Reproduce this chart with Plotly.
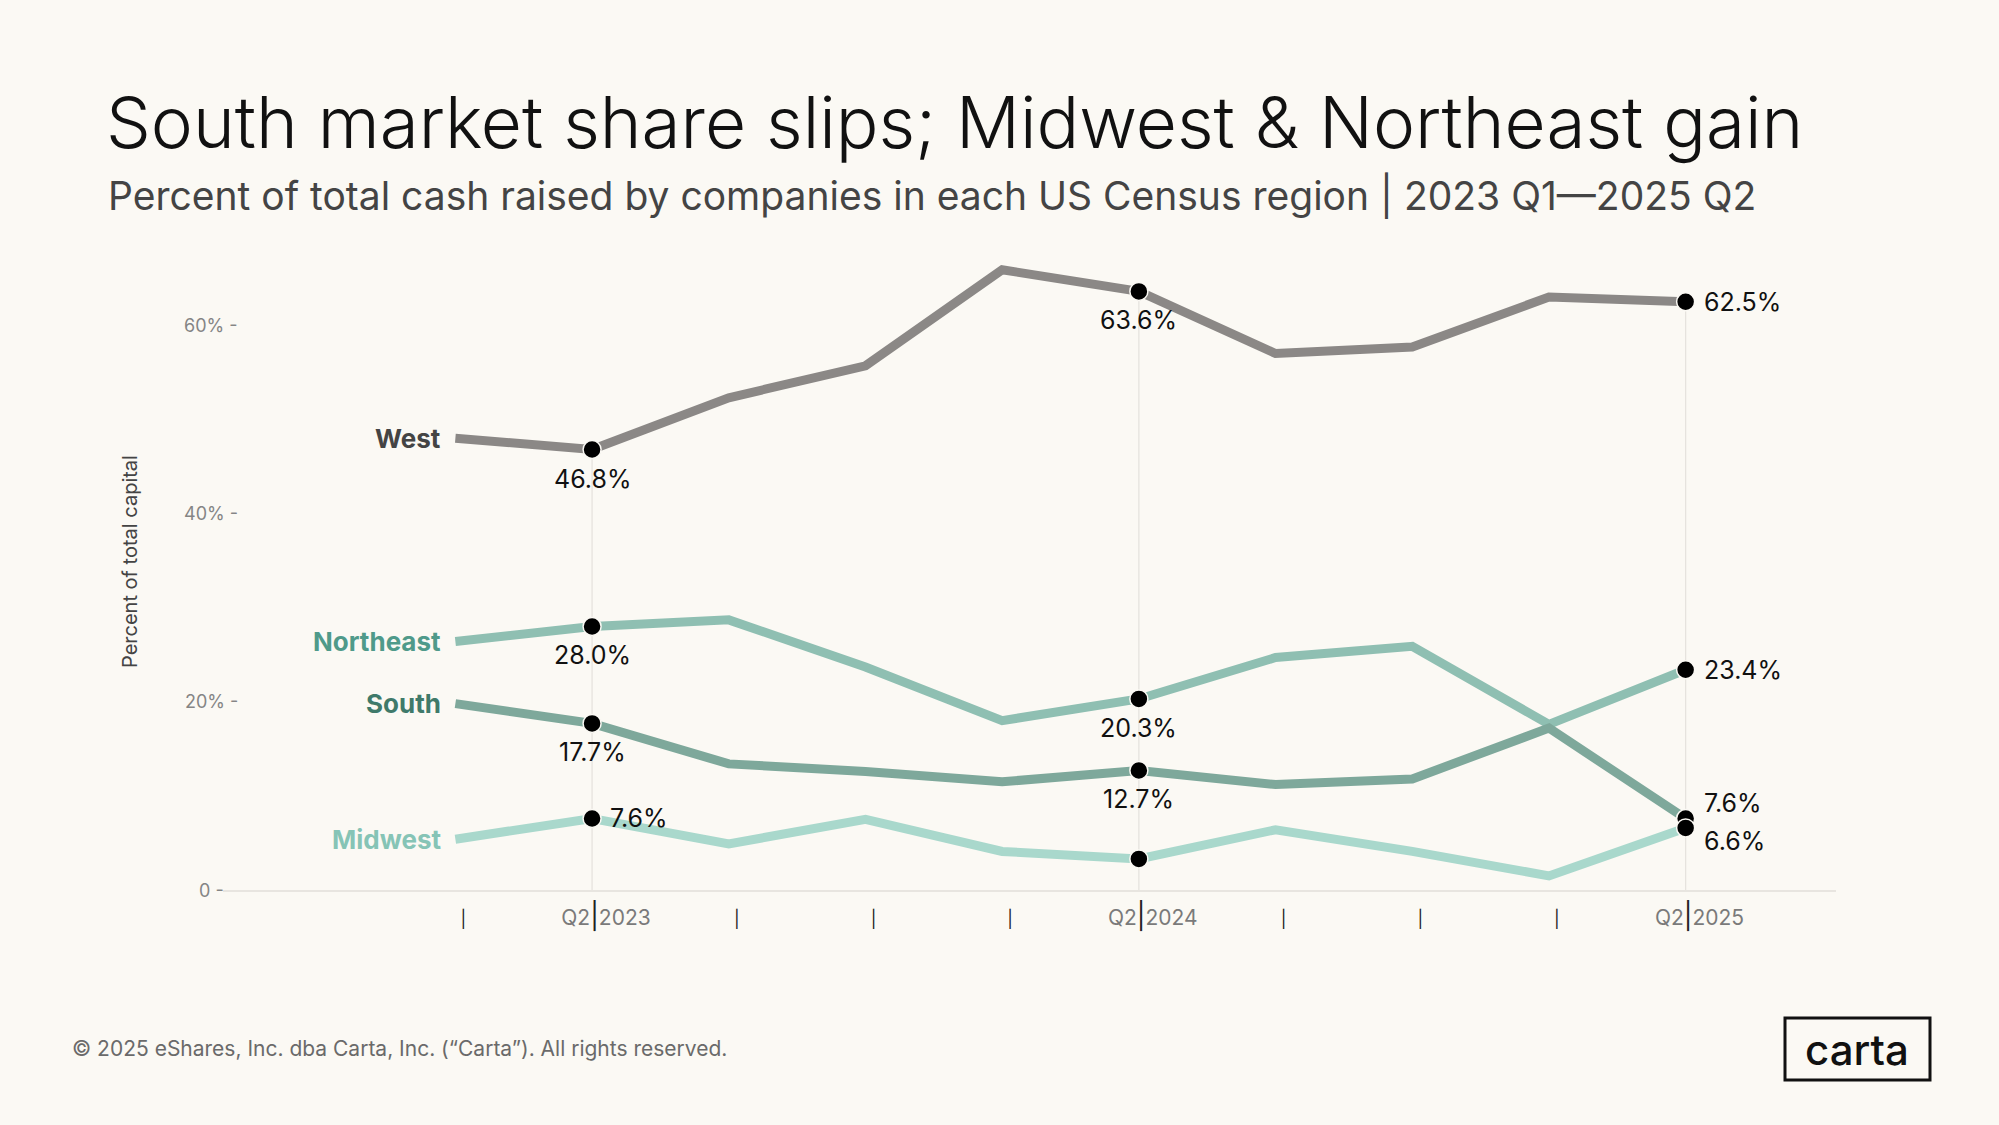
import plotly.graph_objects as go

# data
quarters = ['Q1 2023', 'Q2 2023', 'Q3 2023', 'Q4 2023',
            'Q1 2024', 'Q2 2024', 'Q3 2024', 'Q4 2024',
            'Q1 2025', 'Q2 2025']
west = [48.0, 46.8, 52.3, 55.7, 65.9, 63.6, 57.0, 57.7, 63.0, 62.5]
northeast = [26.4, 28.0, 28.7, 23.7, 18.0, 20.3, 24.7, 25.9, 17.6, 23.4]
south = [19.8, 17.7, 13.4, 12.6, 11.5, 12.7, 11.2, 11.8, 17.2, 7.6]
midwest = [5.4, 7.6, 4.9, 7.5, 4.1, 3.3, 6.4, 4.1, 1.5, 6.6]
tick_labels = ['|', 'Q2|2023', '|', '|', '|', 'Q2|2024', '|', '|', '|', 'Q2|2025']
y_ticks = [0, 20, 40, 60]
y_tick_labels = ['0 -', '20% -', '40% -', '60% -']

W, H = 1999, 1125
L, R, T, B = 223, 163, 250, 235
BG = '#fbf9f4'
FONT = 'Inter'


def px(x):
    return (x - L) / (W - L - R)


def py(y):
    return (H - B - y) / (H - T - B)


# where each Q2 value label sits relative to its dot: (xshift, yshift, xanchor)
BELOW = (0, -29, 'center')
RIGHT = (16, 0, 'left')
UPRIGHT = (16, 15, 'left')
DOWNRIGHT = (16, -13, 'left')

series = [
    # name, values, line colour, label colour, value label positions
    ('West', west, '#8b8886', '#444444', [BELOW, BELOW, RIGHT]),
    ('Northeast', northeast, '#8fbfb2', '#4f9a8a', [BELOW, BELOW, RIGHT]),
    ('South', south, '#7ea89b', '#3f7a6a', [BELOW, BELOW, UPRIGHT]),
    ('Midwest', midwest, '#a9d8cc', '#86c4b6', [RIGHT, None, DOWNRIGHT]),
]

xs = list(range(len(quarters)))
q2 = [i for i, q in enumerate(quarters) if q.startswith('Q2')]

fig = go.Figure()

# thin guide lines at the Q2 quarters, from 0 to the highest value
for i in q2:
    top = max(s[1][i] for s in series)
    fig.add_shape(type='line', x0=i, x1=i, y0=0, y1=top, xref='x', yref='y',
                  line=dict(color='#e6e3de', width=1.3), layer='below')

for name, vals, col, lcol, pos in series:
    fig.add_trace(go.Scatter(
        x=xs, y=vals, mode='lines', name=name,
        line=dict(color=col, width=9), hoverinfo='skip'))

for name, vals, col, lcol, pos in series:
    fig.add_trace(go.Scatter(
        x=q2, y=[vals[i] for i in q2], mode='markers',
        marker=dict(color='black', size=18, line=dict(color=BG, width=1.5)),
        hoverinfo='skip'))
    for i, p in zip(q2, pos):
        if p is None:
            continue
        fig.add_annotation(x=i, y=vals[i], xref='x', yref='y', text=f'{vals[i]:.1f}%',
                           xshift=p[0], yshift=p[1], xanchor=p[2], yanchor='middle',
                           showarrow=False,
                           font=dict(family=FONT, size=25, color='#111111'))
    fig.add_annotation(x=0, y=vals[0], xref='x', yref='y', text=f'<b>{name}</b>',
                       xanchor='right', yanchor='middle', xshift=-12, showarrow=False,
                       font=dict(family=FONT, size=26, color=lcol))

# y tick labels (centred text with the dash inside)
for v, t in zip(y_ticks, y_tick_labels):
    fig.add_annotation(x=px(211), y=v, xref='paper', yref='y', text=t,
                       xanchor='center', yanchor='middle', showarrow=False,
                       font=dict(family=FONT, size=18, color='#858585'))

BAR = "<span style='color:#222;font-size:26px'>|</span>"
tick_text = []
for t in tick_labels:
    if t == '|':
        tick_text.append("<span style='color:#222;font-size:17px'>|</span>")
    else:
        a, b = t.split('|')
        tick_text.append('\u00a0' * 2 + a + BAR + b)

fig.update_layout(
    width=W, height=H,
    margin=dict(l=L, r=R, t=T, b=B),
    paper_bgcolor=BG, plot_bgcolor=BG,
    showlegend=False,
    font=dict(family=FONT, color='#444444'),
    xaxis=dict(range=[-1.7, 10.1], tickvals=xs, ticktext=tick_text,
               showgrid=False, zeroline=False, showline=True,
               linecolor='#e8e5e0', linewidth=2, ticks='',
               ticklabelshift=8, ticklabelstandoff=8,
               tickfont=dict(family=FONT, size=21, color='#7a7a7a')),
    yaxis=dict(range=[0, 68], showgrid=False, zeroline=False,
               showticklabels=False, ticks=''),
)

fig.add_annotation(x=px(130), y=py(562), xref='paper', yref='paper',
                   text='Percent of total capital', textangle=-90,
                   showarrow=False, xanchor='center', yanchor='middle',
                   font=dict(family=FONT, size=20, color='#444444'))

fig.add_annotation(x=px(104), y=py(122), xref='paper', yref='paper',
                   text='South market share slips; Midwest &amp; Northeast gain',
                   showarrow=False, xanchor='left', yanchor='middle',
                   font=dict(family=FONT, size=71, color='#111111', weight=300))
fig.add_annotation(x=px(106), y=py(196), xref='paper', yref='paper',
                   text='Percent of total cash raised by companies in each US Census region | 2023 Q1\u20142025 Q2',
                   showarrow=False, xanchor='left', yanchor='middle',
                   font=dict(family=FONT, size=39, color='#444444'))

fig.add_annotation(x=px(70), y=py(1048), xref='paper', yref='paper',
                   text='\u00a9 2025 eShares, Inc. dba Carta, Inc. (\u201cCarta\u201d). All rights reserved.',
                   showarrow=False, xanchor='left', yanchor='middle',
                   font=dict(family=FONT, size=21, color='#6a6a6a'))

fig.add_shape(type='rect', xref='paper', yref='paper',
              x0=px(1785), x1=px(1930), y0=py(1018), y1=py(1080),
              line=dict(color='#111111', width=3))
fig.add_annotation(x=px(1857), y=py(1049), xref='paper', yref='paper',
                   text='carta', showarrow=False, xanchor='center', yanchor='middle',
                   font=dict(family=FONT, size=42, color='#111111', weight=500))

fig.write_html('out.html', config={'displayModeBar': False},
               post_script="document.body.style.margin='0';")
